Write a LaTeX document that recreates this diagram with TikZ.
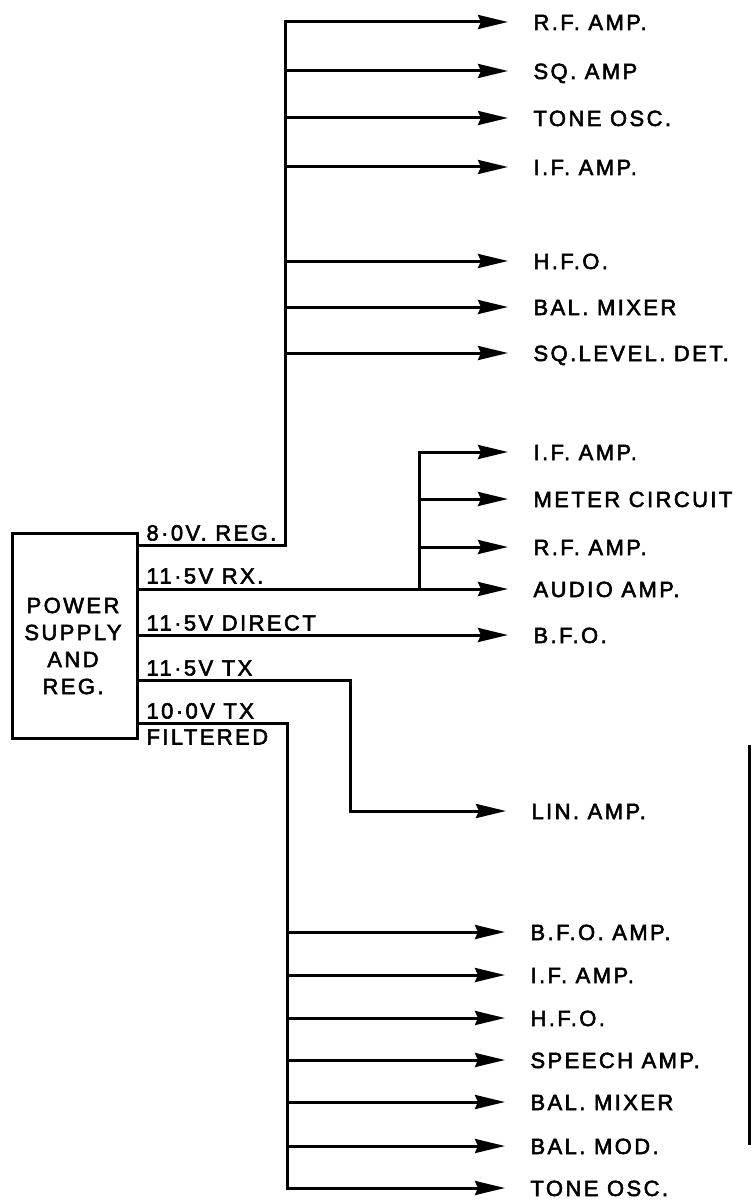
\documentclass[tikz,border=0pt]{standalone}
\usepackage{fontspec}
\setmainfont{Liberation Sans}[LetterSpace=11,FakeBold=2.5]
\usetikzlibrary{arrows.meta}
\newcommand{\lfont}{\fontsize{22}{27}\selectfont}
\begin{document}
\begin{tikzpicture}[x=1pt,y=-1pt,line width=3pt,
  lab/.style={anchor=west,inner sep=0pt,font=\lfont,text height=16pt,text depth=0pt},
  wlab/.style={anchor=south west,inner sep=0pt,font=\lfont,text height=16pt,text depth=0pt},
  feed/.style={-{Stealth[length=30pt,width=14pt,inset=3pt]},shorten >=24pt},
  psubox/.style={draw,minimum width=125pt,minimum height=205pt,inner sep=0pt}]
\useasboundingbox (0,0) rectangle (752,1201);

% power supply
\node[psubox] (psu) at (74.5,635.5) {};
\node[align=center,inner sep=0pt,font=\lfont] (pst) at (73,646) {POWER\\SUPPLY\\AND\\REG.};

% wire labels
\node[wlab] (w1) at (145,542) {8·0V. REG.};
\node[wlab] (w2) at (145,585) {11·5V RX.};
\node[wlab] (w3) at (145,632) {11·5V DIRECT};
\node[wlab] (w4) at (145,677) {11·5V TX};
\node[wlab] (w5) at (145,720) {10·0V TX};
\node[wlab] (w6) at (145,746) {FILTERED};

% top group (8.0V REG.)
\node[lab] (t1) at (532,22) {R.F. AMP.};
\node[lab] (t2) at (532,71) {SQ. AMP};
\node[lab] (t3) at (532,118) {TONE OSC.};
\node[lab] (t4) at (532,167) {I.F. AMP.};
\node[lab] (t5) at (532,261) {H.F.O.};
\node[lab] (t6) at (532,307) {BAL. MIXER};
\node[lab] (t7) at (532,353) {SQ.LEVEL. DET.};

% middle group (11.5V RX / DIRECT)
\node[lab] (m1) at (532,452) {I.F. AMP.};
\node[lab] (m2) at (532,499) {METER CIRCUIT};
\node[lab] (m3) at (532,547) {R.F. AMP.};
\node[lab] (m4) at (532,589) {AUDIO AMP.};
\node[lab] (m5) at (532,635) {B.F.O.};

% TX
\node[lab] (lin) at (530,811) {LIN. AMP.};

% bottom group (10.0V TX FILTERED)
\node[lab] (f1) at (529,932) {B.F.O. AMP.};
\node[lab] (f2) at (529,975) {I.F. AMP.};
\node[lab] (f3) at (529,1018) {H.F.O.};
\node[lab] (f4) at (529,1060) {SPEECH AMP.};
\node[lab] (f5) at (529,1102) {BAL. MIXER};
\node[lab] (f6) at (529,1146) {BAL. MOD.};
\node[lab] (f7) at (529,1188) {TONE OSC.};

% bus coordinates
\coordinate (b1) at (285,545);
\coordinate (b2) at (419,589);
\coordinate (b3) at (350,680);
\coordinate (b4) at (287,723);

% 8.0V REG. bus
\draw[feed] (psu.east |- b1) -- (b1) |- (t1.west);
\foreach \n in {t2,t3,t4,t5,t6,t7} \draw[feed] (\n.west -| b1) -- (\n.west);

% 11.5V RX
\draw[feed] (psu.east |- b2) -- (m4.west);
\draw[feed] (b2) |- (m1.west);
\foreach \n in {m2,m3} \draw[feed] (\n.west -| b2) -- (\n.west);

% 11.5V DIRECT
\draw[feed] (psu.east |- m5.west) -- (m5.west);

% 11.5V TX
\draw[feed] (psu.east |- b3) -- (b3) |- (lin.west);

% 10.0V TX FILTERED
\draw[feed] (psu.east |- b4) -- (b4) |- (f7.west);
\foreach \n in {f1,f2,f3,f4,f5,f6} \draw[feed] (\n.west -| b4) -- (\n.west);

% right-hand vertical rule
\coordinate (r1) at (749,745);
\coordinate (r2) at (749,1145);
\draw (r1) -- (r2);
\end{tikzpicture}
\end{document}
